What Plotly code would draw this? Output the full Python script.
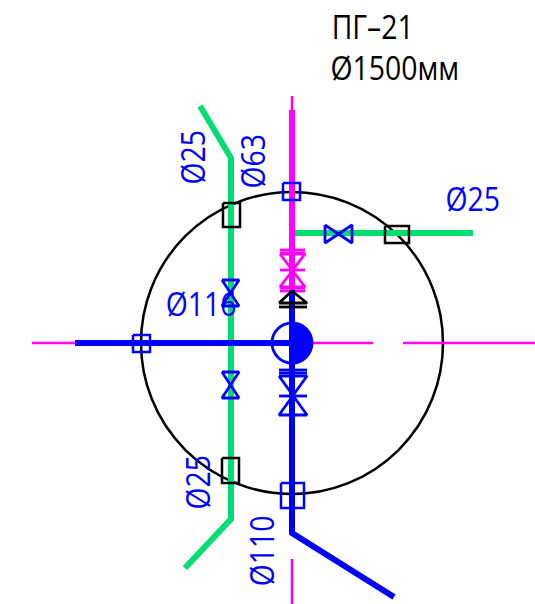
import plotly.graph_objects as go

BLUE = "#0000ff"
GREEN = "#00de70"
MAGENTA = "#ff00ff"
BLACK = "#000000"

# well
well_center = (292, 343)
well_radius = 151
hub_radius = 20

# pipe runs (x, y in drawing pixels)
axis_x = [32, 75, None, 313, 373, None, 403, 535, None, 292, 292, None, 292, 292]
axis_y = [343, 343, None, 343, 343, None, 343, 343, None, 96, 112, None, 559, 604]
green_x = [200, 231, 231, 185, None, 292, 473]
green_y = [106, 158, 519, 568, None, 233, 233]
magenta_x = [292, 292]
magenta_y = [110, 290]
blue_h_x = [75, 292]
blue_h_y = [343, 343]
blue_v_x = [292, 292, 394]
blue_v_y = [290, 533, 597]

# squares: left, right, top, bottom
blue_squares = [(133, 150, 335, 352), (283, 300, 183, 200), (281, 304, 483, 508)]
black_squares = [(223, 240, 203, 227), (385, 409, 226, 243), (222, 239, 458, 483)]

# valve outlines
valve_blue_x = [222, 239, 222, 239, 222, None, 222, 239, 222, 239, 222, None,
                325, 325, 352, 352, 325, None,
                279, 307, None, 279, 307, None, 279, 307, 279, 307, 279, None, 279, 307]
valve_blue_y = [280, 280, 306, 306, 280, None, 372, 372, 398, 398, 372, None,
                225, 243, 225, 243, 225, None,
                370, 370, None, 373, 373, None, 376, 376, 415, 415, 376, None, 396, 396]
valve_magenta_x = [280, 305, None, 280, 305, None, 280, 305, 280, 305, 280, None,
                   280, 305, None, 280, 305, None, 280, 305]
valve_magenta_y = [250, 250, None, 253, 253, None, 254, 254, 287, 287, 254, None,
                   270, 270, None, 288, 288, None, 291, 291]
valve_black_x = [279, 292, 307, 279, None, 279, 307]
valve_black_y = [303, 291, 303, 303, None, 307, 307]

# labels: text, x, y, angle
labels = [
    ("Ø25", 192, 158, -90),
    ("Ø63", 252, 162, -90),
    ("Ø25", 472, 198, 0),
    ("Ø116", 201, 303, 0),
    ("Ø25", 197, 483, -90),
    ("Ø110", 261, 551, -90),
]
titles = [("ПГ–21", 323, 26), ("Ø1500мм", 318, 67)]


def square_path(squares):
    xs, ys = [], []
    for l, r, t, b in squares:
        xs += [l, r, r, l, l, None]
        ys += [t, t, b, b, t, None]
    return xs, ys


def add_line(x, y, color, width):
    fig.add_trace(go.Scatter(x=x, y=y, mode="lines", hoverinfo="skip",
                             line=dict(color=color, width=width)))


fig = go.Figure()
add_line(axis_x, axis_y, MAGENTA, 2.5)
add_line(green_x, green_y, GREEN, 6)
add_line(magenta_x, magenta_y, MAGENTA, 6)
add_line(valve_magenta_x, valve_magenta_y, MAGENTA, 2.8)
add_line(blue_h_x, blue_h_y, BLUE, 6)
add_line(blue_v_x, blue_v_y, BLUE, 6)
add_line(valve_blue_x, valve_blue_y, BLUE, 2.8)
add_line(valve_black_x, valve_black_y, BLACK, 2.8)
add_line(*square_path(blue_squares), BLUE, 2.5)
add_line(*square_path(black_squares), BLACK, 2.5)

cx, cy = well_center
k = hub_radius * 0.5523
half_disk = (f"M {cx} {cy - hub_radius} "
             f"C {cx + k} {cy - hub_radius} {cx + hub_radius} {cy - k} {cx + hub_radius} {cy} "
             f"C {cx + hub_radius} {cy + k} {cx + k} {cy + hub_radius} {cx} {cy + hub_radius} Z")
shapes = [
    dict(type="circle", xref="x", yref="y", layer="below",
         x0=cx - well_radius, x1=cx + well_radius, y0=cy - well_radius, y1=cy + well_radius,
         line=dict(color=BLACK, width=2.5)),
    dict(type="circle", xref="x", yref="y", layer="above",
         x0=cx - hub_radius, x1=cx + hub_radius, y0=cy - hub_radius, y1=cy + hub_radius,
         line=dict(color=BLUE, width=2.8)),
    dict(type="path", xref="x", yref="y", layer="above", path=half_disk,
         fillcolor=BLUE, line=dict(color=BLUE, width=1.5)),
]

FONT = "Open Sans, sans-serif"
annotations = [
    dict(text=t, x=x, y=y, xref="x", yref="y", textangle=a, showarrow=False,
         xanchor="center", yanchor="middle",
         font=dict(family=FONT, size=33, color=BLUE))
    for t, x, y, a in labels
] + [
    dict(text=t, x=x, y=y, xref="x", yref="y", showarrow=False, height=36,
         xanchor="left", yanchor="middle",
         font=dict(family=FONT, size=33, color=BLACK))
    for t, x, y in titles
]

fig.update_layout(
    width=535, height=604, margin=dict(l=0, r=0, t=0, b=0),
    paper_bgcolor="white", plot_bgcolor="white", showlegend=False,
    xaxis=dict(range=[0, 535], visible=False, fixedrange=True),
    yaxis=dict(range=[604, 0], visible=False, fixedrange=True),
    shapes=shapes, annotations=annotations,
)
post = """
document.body.style.margin = '0';
document.querySelectorAll('.annotation-text').forEach(function (t) {
  t.setAttribute('textLength', t.getComputedTextLength() * 0.86);
  t.setAttribute('lengthAdjust', 'spacingAndGlyphs');
});
"""
fig.write_html("out.html", config={"displayModeBar": False}, post_script=post)
